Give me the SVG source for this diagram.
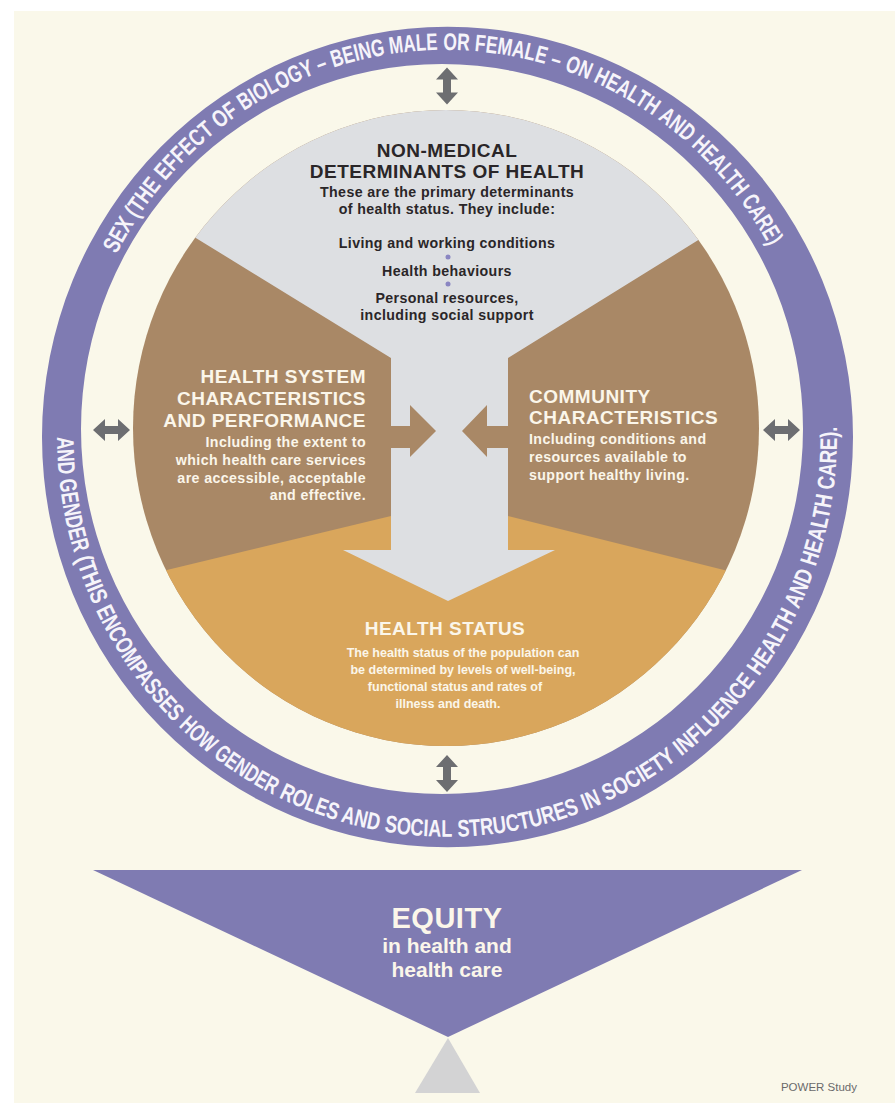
<svg xmlns="http://www.w3.org/2000/svg" width="895" height="1108" viewBox="0 0 895 1108">
<defs>
<style>
.hd{font-family:"Liberation Sans",Arial,sans-serif;font-weight:700;font-size:19px;letter-spacing:0.5px}
.bd{font-family:"Liberation Sans",Arial,sans-serif;font-weight:700;font-size:14.2px;letter-spacing:0.4px}
.sm{font-family:"Liberation Sans",Arial,sans-serif;font-weight:700;font-size:12.5px}
.dk{fill:#2a2628}
.lt{fill:#fbf6ea}
.ringtxt{font-family:"Liberation Sans Narrow","Liberation Sans",Arial,sans-serif;font-weight:700;font-size:24px;fill:#f6f4fa}
.dbl{fill:#6d6e71}
.brn{fill:#a98866}
.purple{fill:#7f7bb2}
</style>
<clipPath id="disk"><ellipse cx="446" cy="428" rx="313" ry="318"/></clipPath>
<path id="dbl" d="M -18.5 0 L -6.5 -11 L -6.5 -4 L 6.5 -4 L 6.5 -11 L 18.5 0 L 6.5 11 L 6.5 4 L -6.5 4 L -6.5 11 Z"/>
<path id="topArc" d="M 116.5 254.3 A 372 385 0 0 1 773.5 254.3"/>
<path id="botArc" d="M 57 437 A 390 401 0 1 0 836.8 423"/>
</defs>
<rect width="895" height="1108" fill="#ffffff"/>
<rect x="14" y="11" width="881" height="1092" fill="#faf8ea"/>

<g id="ring">
<path class="purple" fill-rule="evenodd" d="M 42 437 A 405.5 410 0 1 0 853 437 A 405.5 410 0 1 0 42 437 Z M 81 429 A 361 365 0 1 0 803 429 A 361 365 0 1 0 81 429 Z"/>
<g class="ringtxt">
<text><textPath href="#topArc" startOffset="0" textLength="82.6" lengthAdjust="spacingAndGlyphs">SEX (THE</textPath></text>
<text><textPath href="#topArc" startOffset="87.9" textLength="100.4" lengthAdjust="spacingAndGlyphs">EFFECT OF</textPath></text>
<text><textPath href="#topArc" startOffset="193.7" textLength="94.5" lengthAdjust="spacingAndGlyphs">BIOLOGY –</textPath></text>
<text><textPath href="#topArc" startOffset="293.5" textLength="106.3" lengthAdjust="spacingAndGlyphs">BEING MALE</textPath></text>
<text><textPath href="#topArc" startOffset="405.2" textLength="117.6" lengthAdjust="spacingAndGlyphs">OR FEMALE –</textPath></text>
<text><textPath href="#topArc" startOffset="528.2" textLength="100.4" lengthAdjust="spacingAndGlyphs">ON HEALTH</textPath></text>
<text><textPath href="#topArc" startOffset="633.9" textLength="112.3" lengthAdjust="spacingAndGlyphs">AND HEALTH</textPath></text>
<text><textPath href="#topArc" startOffset="751.5" textLength="53.5" lengthAdjust="spacingAndGlyphs">CARE)</textPath></text>

<text><textPath href="#botArc" startOffset="0" textLength="117.9" lengthAdjust="spacingAndGlyphs">AND GENDER</textPath></text>
<text><textPath href="#botArc" startOffset="123.5" textLength="49.9" lengthAdjust="spacingAndGlyphs">(THIS</textPath></text>
<text><textPath href="#botArc" startOffset="179" textLength="137.2" lengthAdjust="spacingAndGlyphs">ENCOMPASSES</textPath></text>
<text><textPath href="#botArc" startOffset="321.9" textLength="117.9" lengthAdjust="spacingAndGlyphs">HOW GENDER</textPath></text>
<text><textPath href="#botArc" startOffset="445.4" textLength="105.4" lengthAdjust="spacingAndGlyphs">ROLES AND</textPath></text>
<text><textPath href="#botArc" startOffset="556.4" textLength="68.6" lengthAdjust="spacingAndGlyphs">SOCIAL</textPath></text>
<text><textPath href="#botArc" startOffset="630.6" textLength="124.8" lengthAdjust="spacingAndGlyphs">STRUCTURES</textPath></text>
<text><textPath href="#botArc" startOffset="761" textLength="105.4" lengthAdjust="spacingAndGlyphs">IN SOCIETY</textPath></text>
<text><textPath href="#botArc" startOffset="872" textLength="106" lengthAdjust="spacingAndGlyphs">INFLUENCE</textPath></text>
<text><textPath href="#botArc" startOffset="983.7" textLength="117.9" lengthAdjust="spacingAndGlyphs">HEALTH AND</textPath></text>
<text><textPath href="#botArc" startOffset="1107.2" textLength="142.8" lengthAdjust="spacingAndGlyphs">HEALTH CARE).</textPath></text>
</g>
</g>

<g id="node-health-system" clip-path="url(#disk)">
<rect x="120" y="100" width="330" height="660" class="brn"/>
</g>
<g id="node-community" clip-path="url(#disk)">
<rect x="446" y="100" width="330" height="660" class="brn"/>
</g>
<g id="node-health-status" clip-path="url(#disk)">
<polygon points="100,586 391,516 508,516 800,589 800,800 100,800" fill="#d9a65c"/>
</g>
<g id="node-non-medical" clip-path="url(#disk)">
<polygon points="100,179 391,358 391,550 343,550 448,601 555,550 508,550 508,358 800,177 800,0 100,0" fill="#dddfe2"/>
</g>

<g id="connectors">
<polygon class="brn" points="384,426 410,426 410,405 436,431 410,457 410,448 384,448"/>
<polygon class="brn" points="514,426 487,426 487,405 462,431 487,457 487,448 514,448"/>
<use href="#dbl" class="dbl" transform="translate(447,86) rotate(90)"/>
<use href="#dbl" class="dbl" transform="translate(447,773.5) rotate(90)"/>
<use href="#dbl" class="dbl" transform="translate(111.5,430)"/>
<use href="#dbl" class="dbl" transform="translate(781.5,430)"/>
</g>

<g id="text-non-medical" text-anchor="middle">
<text class="hd dk" x="447" y="157">NON-MEDICAL</text>
<text class="hd dk" x="447" y="178">DETERMINANTS OF HEALTH</text>
<text class="bd dk" x="447" y="197">These are the primary determinants</text>
<text class="bd dk" x="447" y="214">of health status. They include:</text>
<text class="bd dk" x="447" y="248">Living and working conditions</text>
<circle cx="448" cy="257" r="2.5" fill="#8a86c2"/>
<text class="bd dk" x="447" y="276">Health behaviours</text>
<circle cx="448" cy="284" r="2.5" fill="#8a86c2"/>
<text class="bd dk" x="447" y="303">Personal resources,</text>
<text class="bd dk" x="447" y="320">including social support</text>
</g>

<g id="text-health-system" text-anchor="end">
<text class="hd lt" x="366" y="383">HEALTH SYSTEM</text>
<text class="hd lt" x="366" y="405">CHARACTERISTICS</text>
<text class="hd lt" x="366" y="427">AND PERFORMANCE</text>
<text class="bd lt" x="366" y="447">Including the extent to</text>
<text class="bd lt" x="366" y="465">which health care services</text>
<text class="bd lt" x="366" y="483">are accessible, acceptable</text>
<text class="bd lt" x="366" y="500">and effective.</text>
</g>

<g id="text-community">
<text class="hd lt" x="529" y="403">COMMUNITY</text>
<text class="hd lt" x="529" y="424">CHARACTERISTICS</text>
<text class="bd lt" x="529" y="444">Including conditions and</text>
<text class="bd lt" x="529" y="462">resources available to</text>
<text class="bd lt" x="529" y="480">support healthy living.</text>
</g>

<g id="text-health-status" text-anchor="middle">
<text class="hd lt" x="445" y="635" style="font-size:19px">HEALTH STATUS</text>
<text class="sm lt" x="463" y="657">The health status of the population can</text>
<text class="sm lt" x="463" y="674">be determined by levels of well-being,</text>
<text class="sm lt" x="455" y="691">functional status and rates of</text>
<text class="sm lt" x="448" y="708">illness and death.</text>
</g>

<g id="node-equity">
<polygon class="purple" points="93,870 802,870 448,1037"/>
<polygon points="448,1038 415,1093 480,1093" fill="#d3d3d4"/>
<text class="hd lt" x="447" y="928" text-anchor="middle" style="font-size:29px">EQUITY</text>
<text class="hd lt" x="447" y="953" text-anchor="middle" style="font-size:21px;letter-spacing:0">in health and</text>
<text class="hd lt" x="447" y="977" text-anchor="middle" style="font-size:21px;letter-spacing:0">health care</text>
</g>

<text x="857" y="1091" text-anchor="end" style="font-family:'Liberation Sans',Arial,sans-serif;font-size:11.5px;fill:#6a6a6a">POWER Study</text>
</svg>
